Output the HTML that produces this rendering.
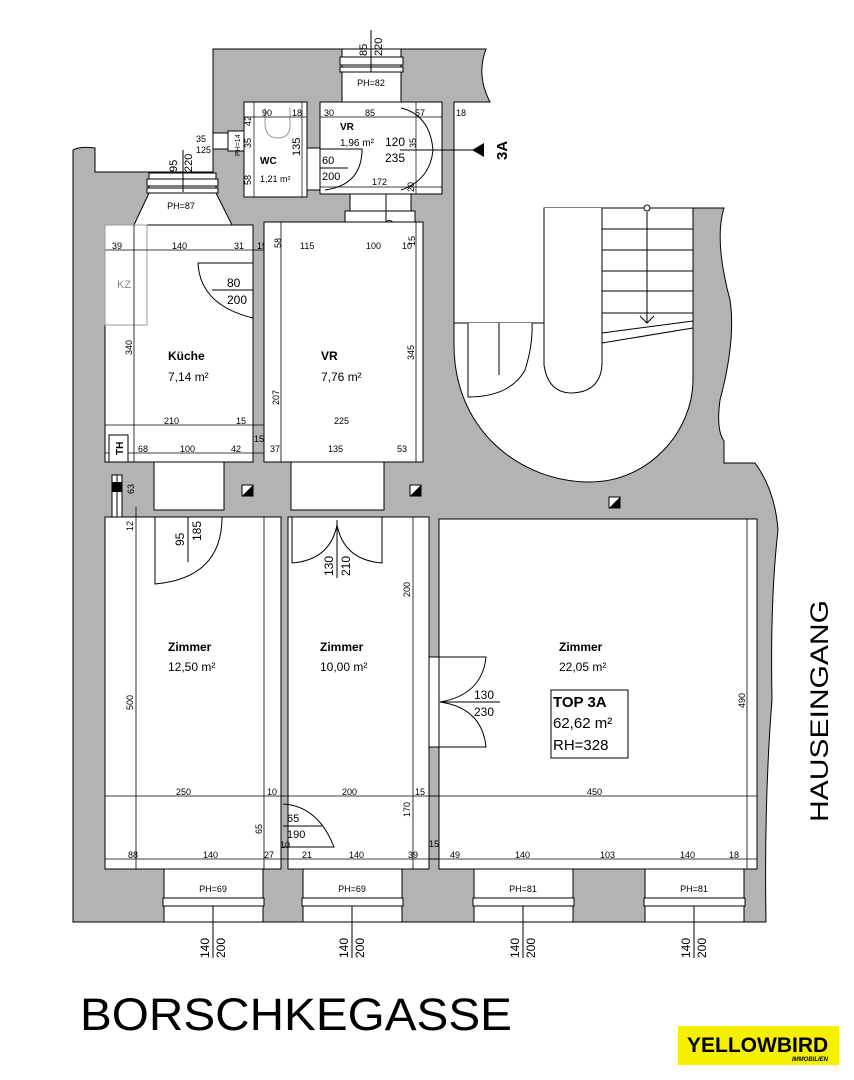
<!DOCTYPE html>
<html><head><meta charset="utf-8"><style>
html,body{margin:0;padding:0;background:#fff;}
svg{display:block;}
text{font-family:"Liberation Sans",sans-serif;fill:#000;}
.d{font-size:11px;}
.s{font-size:9px;}
.n{font-size:12px;font-weight:bold;}
.a{font-size:12px;}
</style></head><body>
<svg width="854" height="1080" viewBox="0 0 854 1080" xmlns="http://www.w3.org/2000/svg">
<path d="M73,150 Q80,146 95,148 L95,172 L213,172 L213,49 L486,49 Q476,75 490,102 L454,102 L454,325 L545,325 L545,208 L724,208 Q714,240 730,300 Q736,340 720,400 Q716,430 724,441 L724,463 L755,463 Q775,490 778,530 Q770,600 772,700 Q764,800 766,922 L73,922 Z" fill="#b3b3b3" stroke="#000" stroke-width="1"/>
<path d="M454,323 L454,345 C454,430 520,482 590,482 C650,482 693,430 693,380 L693,208 L544,208 L544,323 Z" fill="#fff" stroke="#000"/>
<path d="M544,208 L544,365 Q548,393 572,393 Q600,392 602,365 L602,208" fill="#fff" stroke="#000"/>
<g stroke="#000" stroke-width="1">
<line x1="602" y1="229" x2="693" y2="229"/><line x1="602" y1="250" x2="693" y2="250"/><line x1="602" y1="271" x2="693" y2="271"/><line x1="602" y1="291" x2="693" y2="291"/><line x1="602" y1="313" x2="693" y2="313"/>
<line x1="602" y1="333" x2="693" y2="321"/><line x1="602" y1="343" x2="693" y2="328"/>
<line x1="647" y1="212" x2="647" y2="323"/><polyline points="640,316 647,323 654,316" fill="none"/>
</g>
<circle cx="647" cy="208" r="3" fill="#fff" stroke="#000"/>
<path d="M468,323 L468,397 Q510,397 525,370 Q533,345 532,323" fill="#fff" stroke="#000"/>
<line x1="499" y1="323" x2="499" y2="375" stroke="#000"/>
<rect x="342" y="49" width="59" height="53" fill="#fff" stroke="#000"/>
<rect x="340" y="57" width="63" height="8" fill="#fff" stroke="#000"/><rect x="340" y="67" width="63" height="5" fill="#fff" stroke="#000"/>
<text x="371" y="86" class="s" text-anchor="middle">PH=82</text>
<line x1="371" y1="30" x2="371" y2="72" stroke="#000"/>
<text class="d" transform="translate(367,56) rotate(-90)">85</text>
<text class="d" transform="translate(382,56) rotate(-90)">220</text>
<path d="M149,173 L216,173 L216,193 L232,225 L134,225 L149,193 Z" fill="#fff" stroke="#000"/>
<rect x="147" y="179" width="71" height="7" fill="#fff" stroke="#000"/><rect x="147" y="188" width="71" height="5" fill="#fff" stroke="#000"/>
<text x="181" y="209" class="s" text-anchor="middle">PH=87</text>
<line x1="183" y1="150" x2="183" y2="192" stroke="#000"/>
<text class="d" transform="translate(177,172) rotate(-90)">95</text>
<text class="d" transform="translate(192,172) rotate(-90)">220</text>
<rect x="213" y="133" width="15" height="16" fill="#fff" stroke="#000"/>
<rect x="228" y="131" width="16" height="20" fill="#fff" stroke="#000"/>
<text x="196" y="142" class="s">35</text><text x="196" y="153" class="s">125</text>
<text class="s" style="font-size:7px" transform="translate(240,156) rotate(-90)">PH=14</text>
<rect x="244" y="102" width="63" height="95" fill="#fff" stroke="#000"/>
<path d="M265,108 L265,125 Q266,138 278,138 Q290,138 290,125 L290,108" fill="none" stroke="#999"/>
<line x1="244" y1="117" x2="307" y2="117" stroke="#000" stroke-width="0.7"/>
<line x1="254" y1="102" x2="254" y2="197" stroke="#000" stroke-width="0.7"/>
<line x1="302" y1="102" x2="302" y2="197" stroke="#000" stroke-width="0.7"/>
<text x="262" y="116" class="s">90</text><text x="292" y="116" class="s">18</text>
<text class="s" transform="translate(251,126) rotate(-90)">42</text>
<text class="s" transform="translate(251,148) rotate(-90)">35</text>
<text class="s" transform="translate(251,185) rotate(-90)">58</text>
<text class="d" transform="translate(300,156) rotate(-90)">135</text>
<text x="260" y="164" class="n" style="font-size:10px">WC</text>
<text x="260" y="182" class="s">1,21 m²</text>
<rect x="307" y="148" width="13" height="42" fill="#fff" stroke="#000"/>
<rect x="320" y="102" width="122" height="92" fill="#fff" stroke="#000"/>
<line x1="320" y1="117" x2="442" y2="117" stroke="#000" stroke-width="0.7"/>
<line x1="320" y1="187" x2="442" y2="187" stroke="#000" stroke-width="0.7"/>
<line x1="416" y1="102" x2="416" y2="194" stroke="#000" stroke-width="0.7"/>
<path d="M320,149 L362,149 Q362,185 325,190" fill="none" stroke="#000"/>
<line x1="320" y1="168" x2="348" y2="168" stroke="#000"/>
<path d="M401,108 Q430,115 433,150 Q430,180 401,190" fill="none" stroke="#000"/>
<line x1="400" y1="150" x2="475" y2="150" stroke="#000"/>
<path d="M472,150 L484,143 L484,157 Z" fill="#000"/>
<text x="491" y="160" class="n" style="font-size:15px" transform="rotate(-90 499 152)">3A</text>
<text x="324" y="116" class="s">30</text><text x="365" y="116" class="s">85</text><text x="415" y="116" class="s">57</text><text x="456" y="116" class="s">18</text>
<text x="340" y="130" class="n" style="font-size:10px">VR</text>
<text x="340" y="146" class="s" style="font-size:10px">1,96 m²</text>
<text x="385" y="146" class="a">120</text><text x="385" y="162" class="a">235</text>
<text class="s" transform="translate(416,148) rotate(-90)">35</text>
<text x="322" y="164" class="d">60</text><text x="322" y="180" class="d">200</text>
<text x="372" y="185" class="s">172</text>
<text class="s" transform="translate(414,192) rotate(-90)">20</text>
<rect x="350" y="194" width="61" height="28" fill="#fff" stroke="#000"/>
<rect x="345" y="211" width="70" height="11" fill="#fff" stroke="#000"/>
<path d="M352,222 Q358,255 412,262 L412,222" fill="none" stroke="#000"/>
<line x1="386" y1="194" x2="386" y2="240" stroke="#000"/>
<text class="d" transform="translate(378,238) rotate(-90)">85</text>
<text class="d" transform="translate(393,238) rotate(-90)">200</text>
<rect x="105" y="225" width="148" height="237" fill="#fff" stroke="#000"/>
<rect x="105" y="225" width="42" height="100" fill="none" stroke="#999"/>
<text x="117" y="288" class="d" style="fill:#888">KZ</text>
<line x1="134" y1="225" x2="134" y2="462" stroke="#000" stroke-width="0.8"/>
<line x1="105" y1="250" x2="264" y2="250" stroke="#000" stroke-width="0.8"/>
<line x1="105" y1="425" x2="264" y2="425" stroke="#000" stroke-width="0.8"/>
<line x1="105" y1="453" x2="264" y2="453" stroke="#000" stroke-width="0.8"/>
<text x="112" y="249" class="s">39</text><text x="172" y="249" class="s">140</text><text x="234" y="249" class="s">31</text><text x="257" y="249" class="s">15</text>
<text class="s" transform="translate(132,355) rotate(-90)">340</text>
<path d="M253,263 L198,263 Q200,305 253,318" fill="none" stroke="#000"/>
<line x1="212" y1="290" x2="253" y2="290" stroke="#000"/>
<text x="227" y="287" class="a">80</text><text x="227" y="304" class="a">200</text>
<text x="168" y="360" class="n">Küche</text>
<text x="168" y="381" class="a">7,14 m²</text>
<text x="164" y="424" class="s">210</text><text x="236" y="424" class="s">15</text>
<text x="254" y="442" class="s">15</text>
<text x="138" y="452" class="s">68</text><text x="180" y="452" class="s">100</text><text x="231" y="452" class="s">42</text>
<rect x="109" y="435" width="19" height="27" fill="#fff" stroke="#000"/>
<text class="n" style="font-size:10px" transform="translate(123,455) rotate(-90)">TH</text>
<rect x="264" y="222" width="159" height="240" fill="#fff" stroke="#000"/>
<line x1="281" y1="222" x2="281" y2="462" stroke="#000" stroke-width="0.8"/>
<line x1="416" y1="222" x2="416" y2="462" stroke="#000" stroke-width="0.8"/>
<text x="300" y="249" class="s">115</text><text x="366" y="249" class="s">100</text><text x="402" y="249" class="s">10</text>
<text class="s" transform="translate(281,248) rotate(-90)">58</text>
<text class="s" transform="translate(415,246) rotate(-90)">15</text>
<text class="s" transform="translate(279,405) rotate(-90)">207</text>
<text class="s" transform="translate(414,360) rotate(-90)">345</text>
<text x="321" y="360" class="n">VR</text>
<text x="321" y="381" class="a">7,76 m²</text>
<text x="334" y="424" class="s">225</text>
<text x="270" y="452" class="s">37</text><text x="328" y="452" class="s">135</text><text x="397" y="452" class="s">53</text>
<rect x="154" y="462" width="70" height="48" fill="#fff" stroke="#000"/>
<rect x="291" y="462" width="93" height="48" fill="#fff" stroke="#000"/>
<rect x="112" y="475" width="5" height="42" fill="#fff" stroke="#000"/>
<rect x="117" y="475" width="5" height="42" fill="#fff" stroke="#000"/>
<rect x="112" y="482" width="10" height="10" fill="#000"/>
<text class="s" transform="translate(134,494) rotate(-90)">63</text>
<rect x="242" y="485" width="11" height="11" fill="#fff" stroke="#000"/><path d="M242,496 L253,485 L253,496 Z" fill="#000"/>
<rect x="410" y="485" width="11" height="11" fill="#fff" stroke="#000"/><path d="M410,496 L421,485 L421,496 Z" fill="#000"/>
<rect x="609" y="497" width="11" height="11" fill="#fff" stroke="#000"/><path d="M609,508 L620,497 L620,508 Z" fill="#000"/>
<rect x="105" y="517" width="176" height="352" fill="#fff" stroke="#000"/>
<line x1="136" y1="507" x2="136" y2="869" stroke="#000" stroke-width="0.8"/>
<line x1="264" y1="517" x2="264" y2="869" stroke="#000" stroke-width="0.8"/>
<line x1="105" y1="796" x2="288" y2="796" stroke="#000" stroke-width="0.8"/>
<line x1="105" y1="859" x2="288" y2="859" stroke="#000" stroke-width="0.8"/>
<line x1="154" y1="510" x2="224" y2="510" stroke="#000"/>
<path d="M222,517 Q222,578 155,584 L155,517" fill="none" stroke="#000"/>
<line x1="188" y1="517" x2="188" y2="562" stroke="#000"/>
<text class="a" transform="translate(184,546) rotate(-90)">95</text>
<text class="a" transform="translate(201,541) rotate(-90)">185</text>
<text class="s" transform="translate(133,531) rotate(-90)">12</text>
<text class="s" transform="translate(133,710) rotate(-90)">500</text>
<text x="168" y="651" class="n">Zimmer</text>
<text x="168" y="671" class="a">12,50 m²</text>
<text x="176" y="795" class="s">250</text><text x="267" y="795" class="s">10</text>
<text class="s" transform="translate(262,834) rotate(-90)">65</text>
<text x="128" y="858" class="s">88</text><text x="203" y="858" class="s">140</text><text x="264" y="858" class="s">27</text>
<rect x="288" y="517" width="141" height="352" fill="#fff" stroke="#000"/>
<line x1="413" y1="517" x2="413" y2="869" stroke="#000" stroke-width="0.8"/>
<line x1="288" y1="796" x2="439" y2="796" stroke="#000" stroke-width="0.8"/>
<line x1="288" y1="859" x2="439" y2="859" stroke="#000" stroke-width="0.8"/>
<line x1="291" y1="510" x2="384" y2="510" stroke="#000"/>
<path d="M292,517 L292,563 Q330,560 337,525" fill="none" stroke="#000"/>
<path d="M382,517 L382,563 Q344,560 337,525" fill="none" stroke="#000"/>
<line x1="337" y1="520" x2="337" y2="578" stroke="#000"/>
<text class="a" transform="translate(333,576) rotate(-90)">130</text>
<text class="a" transform="translate(350,576) rotate(-90)">210</text>
<text class="s" transform="translate(410,597) rotate(-90)">200</text>
<text class="s" transform="translate(410,817) rotate(-90)">170</text>
<text x="320" y="651" class="n">Zimmer</text>
<text x="320" y="671" class="a">10,00 m²</text>
<text x="342" y="795" class="s">200</text><text x="415" y="795" class="s">15</text>
<path d="M283,804 Q318,806 334,847 L283,847" fill="none" stroke="#000"/>
<line x1="283" y1="826" x2="322" y2="826" stroke="#000"/>
<text x="287" y="822" class="d">65</text><text x="287" y="838" class="d">190</text>
<text x="280" y="848" class="s">10</text>
<text x="302" y="858" class="s">21</text><text x="349" y="858" class="s">140</text><text x="408" y="858" class="s">39</text>
<text x="429" y="847" class="s">15</text>
<rect x="439" y="519" width="318" height="350" fill="#fff" stroke="#000"/>
<line x1="747" y1="519" x2="747" y2="869" stroke="#000" stroke-width="0.8"/>
<line x1="429" y1="796" x2="757" y2="796" stroke="#000" stroke-width="0.8"/>
<line x1="429" y1="859" x2="757" y2="859" stroke="#000" stroke-width="0.8"/>
<rect x="429" y="657" width="10" height="90" fill="#fff" stroke="#000"/>
<path d="M429,657 L486,657 Q482,695 440,702 Q482,708 486,747 L429,747" fill="none" stroke="#000"/>
<line x1="440" y1="702" x2="500" y2="702" stroke="#000"/>
<text x="474" y="699" class="a">130</text><text x="474" y="716" class="a">230</text>
<text x="559" y="651" class="n">Zimmer</text>
<text x="559" y="671" class="a">22,05 m²</text>
<rect x="551" y="690" width="77" height="68" fill="#fff" stroke="#000"/>
<text x="553" y="707" class="n" style="font-size:15px">TOP 3A</text>
<text x="553" y="728" style="font-size:15px">62,62 m²</text>
<text x="553" y="750" style="font-size:15px">RH=328</text>
<text class="s" transform="translate(745,708) rotate(-90)">490</text>
<text x="587" y="795" class="s">450</text>
<text x="450" y="858" class="s">49</text><text x="515" y="858" class="s">140</text><text x="600" y="858" class="s">103</text><text x="680" y="858" class="s">140</text><text x="729" y="858" class="s">18</text>
<g>
<rect x="164" y="869" width="99" height="53" fill="#fff" stroke="#000"/>
<rect x="163" y="898" width="101" height="8" fill="#fff" stroke="#000"/>
<text x="213" y="892" class="s" text-anchor="middle">PH=69</text>
<line x1="213" y1="906" x2="213" y2="958" stroke="#000"/>
<rect x="303" y="869" width="99" height="53" fill="#fff" stroke="#000"/>
<rect x="302" y="898" width="101" height="8" fill="#fff" stroke="#000"/>
<text x="352" y="892" class="s" text-anchor="middle">PH=69</text>
<line x1="352" y1="906" x2="352" y2="958" stroke="#000"/>
<rect x="474" y="869" width="99" height="53" fill="#fff" stroke="#000"/>
<rect x="473" y="898" width="101" height="8" fill="#fff" stroke="#000"/>
<text x="523" y="892" class="s" text-anchor="middle">PH=81</text>
<line x1="523" y1="906" x2="523" y2="958" stroke="#000"/>
<rect x="645" y="869" width="99" height="53" fill="#fff" stroke="#000"/>
<rect x="644" y="898" width="101" height="8" fill="#fff" stroke="#000"/>
<text x="694" y="892" class="s" text-anchor="middle">PH=81</text>
<line x1="694" y1="906" x2="694" y2="958" stroke="#000"/>
</g>
<text class="a" transform="translate(209,958) rotate(-90)">140</text><text class="a" transform="translate(225,958) rotate(-90)">200</text>
<text class="a" transform="translate(348,958) rotate(-90)">140</text><text class="a" transform="translate(364,958) rotate(-90)">200</text>
<text class="a" transform="translate(519,958) rotate(-90)">140</text><text class="a" transform="translate(535,958) rotate(-90)">200</text>
<text class="a" transform="translate(690,958) rotate(-90)">140</text><text class="a" transform="translate(706,958) rotate(-90)">200</text>
<text transform="translate(828,822) rotate(-90)" style="font-size:25px" textLength="222" lengthAdjust="spacingAndGlyphs">HAUSEINGANG</text>
<text x="80" y="1030" style="font-size:45px" textLength="432" lengthAdjust="spacingAndGlyphs">BORSCHKEGASSE</text>
<rect x="678" y="1026" width="161" height="39" fill="#f5f000"/>
<text x="687" y="1052" style="font-size:21px;font-weight:bold">YELLOWBIRD</text>
<text x="828" y="1061" text-anchor="end" style="font-size:6px;font-weight:bold;font-style:italic">IMMOBILIEN</text>
</svg>
</body></html>
